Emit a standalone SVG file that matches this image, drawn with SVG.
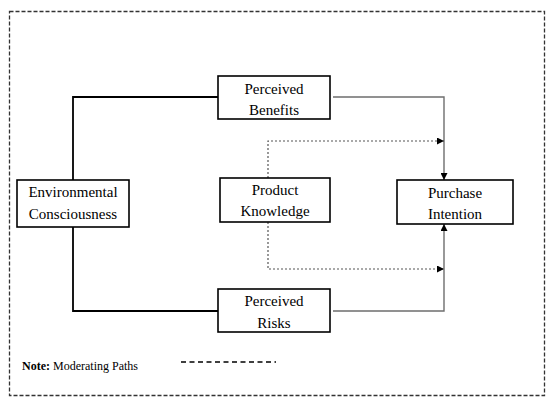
<svg xmlns="http://www.w3.org/2000/svg" width="550" height="402" viewBox="0 0 550 402">
<style>
.box{fill:#fff;stroke:#000;stroke-width:1.6}
.t{font-family:"Liberation Serif","Times New Roman",serif;font-size:15px;fill:#000;text-anchor:middle}
.solid{fill:none;stroke:#000;stroke-width:1.8}
.grey{fill:none;stroke:#6e6e6e;stroke-width:1.4}
.dot{fill:none;stroke:#555;stroke-width:1.2;stroke-dasharray:2 2}
.note{font-family:"Liberation Serif","Times New Roman",serif;font-size:12px;fill:#000}
</style>
<defs>
<marker id="ah" viewBox="0 0 10 10" refX="10" refY="5" markerWidth="7" markerHeight="7" markerUnits="userSpaceOnUse" orient="auto">
<path d="M0,0 L10,5 L0,10 z" fill="#000"/>
</marker>
</defs>
<rect x="9.5" y="11.5" width="535" height="384" fill="none" stroke="#333" stroke-width="1.3" stroke-dasharray="4 2"/>
<g id="connectors">
<polyline class="solid" points="73,180 73,97 218,97"/>
<polyline class="solid" points="73,227 73,311 218,311"/>
<polyline class="grey" points="333,97 444,97 444,180" marker-end="url(#ah)"/>
<polyline class="grey" points="333,311 444,311 444,224" marker-end="url(#ah)"/>
<polyline class="dot" points="268,178 268,141 444,141" marker-end="url(#ah)"/>
<polyline class="dot" points="268,222 268,269 444,269" marker-end="url(#ah)"/>
</g>
<g id="perceived-benefits">
<rect class="box" x="218" y="76" width="112" height="43"/>
<text class="t" x="274" y="94">Perceived</text>
<text class="t" x="274" y="115">Benefits</text>
</g>
<g id="environmental-consciousness">
<rect class="box" x="17" y="180" width="112" height="47"/>
<text class="t" x="73" y="197">Environmental</text>
<text class="t" x="73" y="219">Consciousness</text>
</g>
<g id="product-knowledge">
<rect class="box" x="220" y="178" width="110" height="44"/>
<text class="t" x="275" y="195">Product</text>
<text class="t" x="275" y="216">Knowledge</text>
</g>
<g id="purchase-intention">
<rect class="box" x="397" y="180" width="116" height="44"/>
<text class="t" x="455" y="198">Purchase</text>
<text class="t" x="455" y="219">Intention</text>
</g>
<g id="perceived-risks">
<rect class="box" x="218" y="289" width="112" height="43"/>
<text class="t" x="274" y="306">Perceived</text>
<text class="t" x="274" y="328">Risks</text>
</g>
<g id="legend">
<text class="note" x="22" y="370"><tspan font-weight="bold">Note:</tspan> Moderating Paths</text>
<line x1="181" y1="362" x2="276" y2="362" stroke="#000" stroke-width="1.3" stroke-dasharray="5 3.5"/>
</g>
</svg>
